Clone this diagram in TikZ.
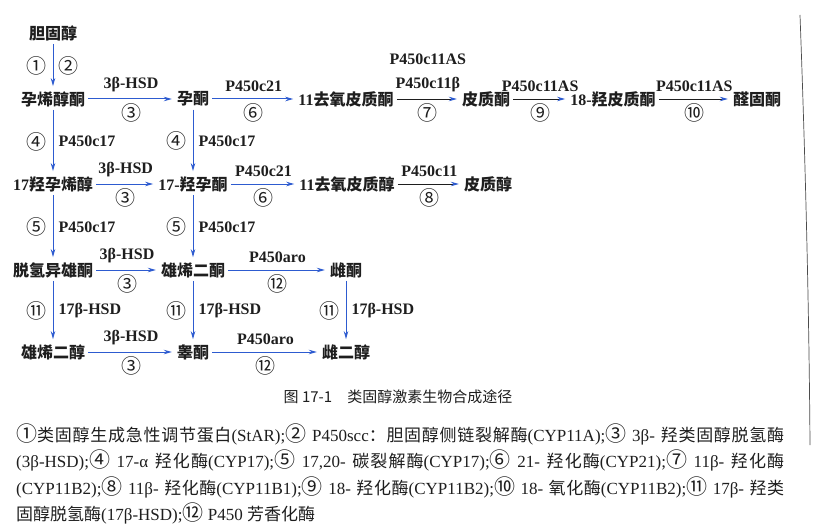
\documentclass[tikz,border=0pt]{standalone}
\usepackage{fontspec}
\setmainfont{Liberation Serif}
\newfontfamily\zhfont{Noto Sans CJK SC}
\usepackage{xcolor}
\definecolor{pathblue}{HTML}{2D5BD0}
\definecolor{inkgray}{HTML}{1E1E1E}
\usetikzlibrary{arrows.meta}
\newcommand{\zh}[1]{{\zhfont #1}}
\newcommand{\keynum}[1]{{\zhfont\fontsize{21}{20}\selectfont #1}}
\XeTeXlinebreaklocale "zh"
\XeTeXlinebreakskip=0pt plus 1pt

\begin{document}
\begin{tikzpicture}[x=1pt,y=-1pt,>={Stealth[length=8pt,width=4.5pt]}]
\tikzset{
 chem/.style={inner sep=2pt,font=\fontsize{16}{18}\selectfont\bfseries,text=inkgray},
 lab/.style={inner sep=2pt,font=\fontsize{16}{24}\selectfont\bfseries,text=inkgray,align=center},
 num/.style={inner sep=1pt,font=\fontsize{20}{20}\selectfont\zhfont,text=inkgray},
 arrow/.style={->,draw=pathblue,line width=1pt,shorten >=3pt,shorten <=1pt},
 darkarrow/.style={-{Stealth[length=8pt,width=4.5pt,color=pathblue]},draw=inkgray,line width=0.9pt,shorten >=3pt,shorten <=1pt},
 legend/.style={anchor=west,inner sep=0pt,text width=768pt,align=justify,font=\fontsize{17}{20}\selectfont,text=inkgray,execute at begin node={\parfillskip=0pt\relax}},
 legendlast/.style={anchor=west,inner sep=0pt,font=\fontsize{17}{20}\selectfont,text=inkgray}
}
\fill[white] (0,0) rectangle (828,527);
\useasboundingbox (0,0) rectangle (828,527);

% column 1
\node[chem] (chol) at (53,33) {\zh{胆固醇}};
\node[chem] (preg) at (53,99) {\zh{孕烯醇酮}};
\node[chem] (ohpreg) at (53,184) {17\zh{羟孕烯醇}};
\node[chem] (dhea) at (53,270) {\zh{脱氢异雄酮}};
\node[chem] (adiol) at (53,352) {\zh{雄烯二醇}};
% column 2
\node[chem] (prog) at (193,99) {\zh{孕酮}};
\node[chem] (ohprog) at (193,184) {17-\zh{羟孕酮}};
\node[chem] (adione) at (193,270) {\zh{雄烯二酮}};
\node[chem] (testo) at (193,352) {\zh{睾酮}};
% column 3
\node[chem] (doc) at (346,99) {11\zh{去氧皮质酮}};
\node[chem] (deoxy) at (347,184) {11\zh{去氧皮质醇}};
\node[chem] (estrone) at (346,270) {\zh{雌酮}};
\node[chem] (estradiol) at (346,352) {\zh{雌二醇}};
% column 4 to 6
\node[chem] (cort) at (486,99) {\zh{皮质酮}};
\node[chem] (cortisol) at (488,184) {\zh{皮质醇}};
\node[chem] (ohcort) at (613,99) {18-\zh{羟皮质酮}};
\node[chem] (aldo) at (757,99) {\zh{醛固酮}};

% vertical steps
\draw[arrow] (chol) -- node[num,left=5pt]{①} node[num,right=4pt]{②} (preg);
\draw[arrow] (preg) -- node[num,left=5pt]{④} node[lab,right=3pt]{P450c17} (ohpreg);
\draw[arrow] (prog) -- node[num,left=5pt]{④} node[lab,right=3pt]{P450c17} (ohprog);
\draw[arrow] (ohpreg) -- node[num,left=5pt]{⑤} node[lab,right=3pt]{P450c17} (dhea);
\draw[arrow] (ohprog) -- node[num,left=5pt]{⑤} node[lab,right=3pt]{P450c17} (adione);
\draw[arrow] (dhea) -- node[num,left=5pt]{⑪} node[lab,right=3pt]{17β-HSD} (adiol);
\draw[arrow] (adione) -- node[num,left=5pt]{⑪} node[lab,right=3pt]{17β-HSD} (testo);
\draw[arrow] (estrone) -- node[num,left=5pt]{⑪} node[lab,right=3pt]{17β-HSD} (estradiol);

% horizontal steps
\draw[arrow] (preg) -- node[lab,above=5pt]{3β-HSD} node[num,below=3pt]{③} (prog);
\draw[arrow] (prog) -- node[lab,above=5pt]{P450c21} node[num,below=3pt]{⑥} (doc);
\draw[darkarrow] (doc) -- node[lab,above=5pt]{P450c11AS\\P450c11β} node[num,below=3pt]{⑦} (cort);
\draw[darkarrow] (cort) -- node[lab,above=5pt]{P450c11AS} node[num,below=3pt]{⑨} (ohcort);
\draw[darkarrow] (ohcort) -- node[lab,above=5pt]{P450c11AS} node[num,below=3pt]{⑩} (aldo);
\draw[arrow] (ohpreg) -- node[lab,above=5pt]{3β-HSD} node[num,below=3pt]{③} (ohprog);
\draw[arrow] (ohprog) -- node[lab,above=5pt]{P450c21} node[num,below=3pt]{⑥} (deoxy);
\draw[darkarrow] (deoxy) -- node[lab,above=5pt]{P450c11} node[num,below=3pt]{⑧} (cortisol);
\draw[arrow] (dhea) -- node[lab,above=5pt]{3β-HSD} node[num,below=3pt]{③} (adione);
\draw[arrow] (adione) -- node[lab,above=5pt]{P450aro} node[num,below=3pt]{⑫} (estrone);
\draw[arrow] (adiol) -- node[lab,above=5pt]{3β-HSD} node[num,below=3pt]{③} (testo);
\draw[arrow] (testo) -- node[lab,above=5pt]{P450aro} node[num,below=3pt]{⑫} (estradiol);

% caption and key
\node[font=\fontsize{15}{17}\selectfont\zhfont,text=inkgray] (caption) at (398,397) {图 17-1\hspace{1em}类固醇激素生物合成途径};
\node[legend] (key1) at (16,434) {\keynum{①}\zh{类固醇生成急性调节蛋白}(StAR);\keynum{②} P450scc\zh{：胆固醇侧链裂解酶}(CYP11A);\keynum{③} 3β- \zh{羟类固醇脱氢酶}};
\node[legend] (key2) at (16,460) {(3β-HSD);\keynum{④} 17-α \zh{羟化酶}(CYP17);\keynum{⑤} 17,20- \zh{碳裂解酶}(CYP17);\keynum{⑥} 21- \zh{羟化酶}(CYP21);\keynum{⑦} 11β- \zh{羟化酶}};
\node[legend] (key3) at (16,487) {(CYP11B2);\keynum{⑧} 11β- \zh{羟化酶}(CYP11B1);\keynum{⑨} 18- \zh{羟化酶}(CYP11B2);\keynum{⑩} 18- \zh{氧化酶}(CYP11B2);\keynum{⑪} 17β- \zh{羟类}};
\node[legendlast] (key4) at (16,513) {\zh{固醇脱氢酶}(17β-HSD);\keynum{⑫} P450 \zh{芳香化酶}};

% page edge
\draw[gray!60!black,line width=0.7pt] (800,15) .. controls (805,150) and (809,300) .. (810,445);
\end{tikzpicture}
\end{document}
